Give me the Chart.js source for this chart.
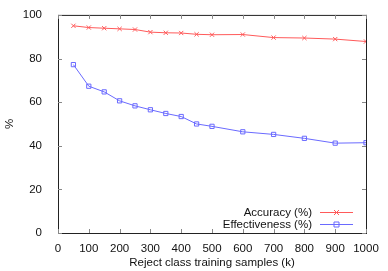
<!DOCTYPE html>
<html>
<head>
<meta charset="utf-8">
<script src="https://cdn.jsdelivr.net/npm/chart.js@4/dist/chart.umd.min.js"></script>
<style>
  html, body { margin: 0; padding: 0; background: #fff; }
  #wrap { width: 388px; height: 271px; }
</style>
</head>
<body>
<div id="wrap"><canvas id="c" width="388" height="271"></canvas></div>
<script>
// training samples (k) and the two measured curves
const samples = [50, 100, 150, 200, 250, 300, 350, 400, 450, 500, 600, 700, 800, 900, 1000];
const accuracy = [95.0, 94.2, 93.9, 93.6, 93.3, 92.1, 91.8, 91.7, 91.1, 90.9, 91.0, 89.6, 89.4, 88.9, 87.8];
const effectiveness = [77.2, 67.3, 64.7, 60.6, 58.3, 56.5, 54.8, 53.4, 50.0, 48.9, 46.4, 45.2, 43.4, 41.2, 41.4];
const xTicks = [0, 100, 200, 300, 400, 500, 600, 700, 800, 900, 1000];
const yTicks = [0, 20, 40, 60, 80, 100];

const FONT = 'Liberation Sans, Arial, sans-serif';
const FSIZE = 11.5;
const RED = '#ff5a5a';
const BLUE = '#6a6aff';

function pts(vals) {
  return samples.map((x, i) => ({ x, y: vals[i] }));
}

// gnuplot-ish frame: full box, inward ticks on all sides, key bottom-right
const gnuFrame = {
  id: 'gnuFrame',
  afterDatasetsDraw(chart) {
    const { ctx, chartArea: a, scales } = chart;
    ctx.save();
    ctx.strokeStyle = '#222';
    ctx.lineWidth = 1;
    ctx.strokeRect(a.left + 0.5, a.top + 0.5, a.right - a.left, a.bottom - a.top);
    ctx.strokeStyle = '#888';
    ctx.beginPath();
    xTicks.forEach(v => {
      const px = Math.round(scales.x.getPixelForValue(v)) + 0.5;
      ctx.moveTo(px, a.bottom); ctx.lineTo(px, a.bottom - 4);
      ctx.moveTo(px, a.top); ctx.lineTo(px, a.top + 4);
    });
    yTicks.forEach(v => {
      const py = Math.round(scales.y.getPixelForValue(v)) + 0.5;
      ctx.moveTo(a.left, py); ctx.lineTo(a.left + 4, py);
      ctx.moveTo(a.right, py); ctx.lineTo(a.right - 4, py);
    });
    ctx.stroke();

    // key
    ctx.font = FSIZE + 'px ' + FONT;
    ctx.textAlign = 'right';
    ctx.textBaseline = 'middle';
    ctx.fillStyle = '#111';
    const rows = [212, 224];
    chart.data.datasets.forEach((ds, i) => {
      const y = rows[i] + 0.5;
      ctx.fillText(ds.label, 312, y);
      ctx.strokeStyle = ds.borderColor;
      ctx.beginPath();
      ctx.moveTo(320, y); ctx.lineTo(353, y);
      ctx.stroke();
      const mx = 336.5;
      ctx.beginPath();
      if (ds.pointStyle === 'crossRot') {
        ctx.moveTo(mx - 2.5, y - 2.5); ctx.lineTo(mx + 2.5, y + 2.5);
        ctx.moveTo(mx - 2.5, y + 2.5); ctx.lineTo(mx + 2.5, y - 2.5);
      } else {
        ctx.rect(mx - 2.5, y - 2.5, 5, 5);
      }
      ctx.stroke();
    });
    ctx.restore();
  }
};

new Chart(document.getElementById('c'), {
  type: 'line',
  data: {
    datasets: [
      {
        label: 'Accuracy (%)',
        data: pts(accuracy),
        borderColor: RED, backgroundColor: RED,
        borderWidth: 1, pointStyle: 'crossRot', pointRadius: 3,
        pointBorderColor: RED, pointBorderWidth: 1, tension: 0
      },
      {
        label: 'Effectiveness (%)',
        data: pts(effectiveness),
        borderColor: BLUE, backgroundColor: 'rgba(0,0,0,0)',
        borderWidth: 1, pointStyle: 'rect', pointRadius: 3,
        pointBorderColor: BLUE, pointBorderWidth: 1, tension: 0
      }
    ]
  },
  options: {
    responsive: false,
    animation: false,
    devicePixelRatio: 1,
    layout: { padding: { left: 3, right: 22, top: 14, bottom: 0 } },
    plugins: { legend: { display: false }, tooltip: { enabled: false } },
    scales: {
      x: {
        type: 'linear', min: 0, max: 1000,
        afterBuildTicks: s => { s.ticks = xTicks.map(v => ({ value: v })); },
        afterFit: s => { s.height = 38; },
        grid: { display: false },
        border: { display: false },
        ticks: { color: '#111', font: { family: FONT, size: FSIZE }, padding: 1, maxRotation: 0,
                 callback: v => String(v) },
        title: { display: true, text: 'Reject class training samples (k)', color: '#111',
                 font: { family: FONT, size: FSIZE }, padding: { top: 0, bottom: 1 } }
      },
      y: {
        min: 0, max: 100,
        afterBuildTicks: s => { s.ticks = yTicks.map(v => ({ value: v })); },
        afterFit: s => { s.width = 55; },
        grid: { display: false },
        border: { display: false },
        ticks: { color: '#111', font: { family: FONT, size: FSIZE }, padding: 8 },
        title: { display: true, text: '%', color: '#111',
                 font: { family: FONT, size: FSIZE }, padding: { top: 0, bottom: 0 } }
      }
    }
  },
  plugins: [gnuFrame]
});
</script>
</body>
</html>
